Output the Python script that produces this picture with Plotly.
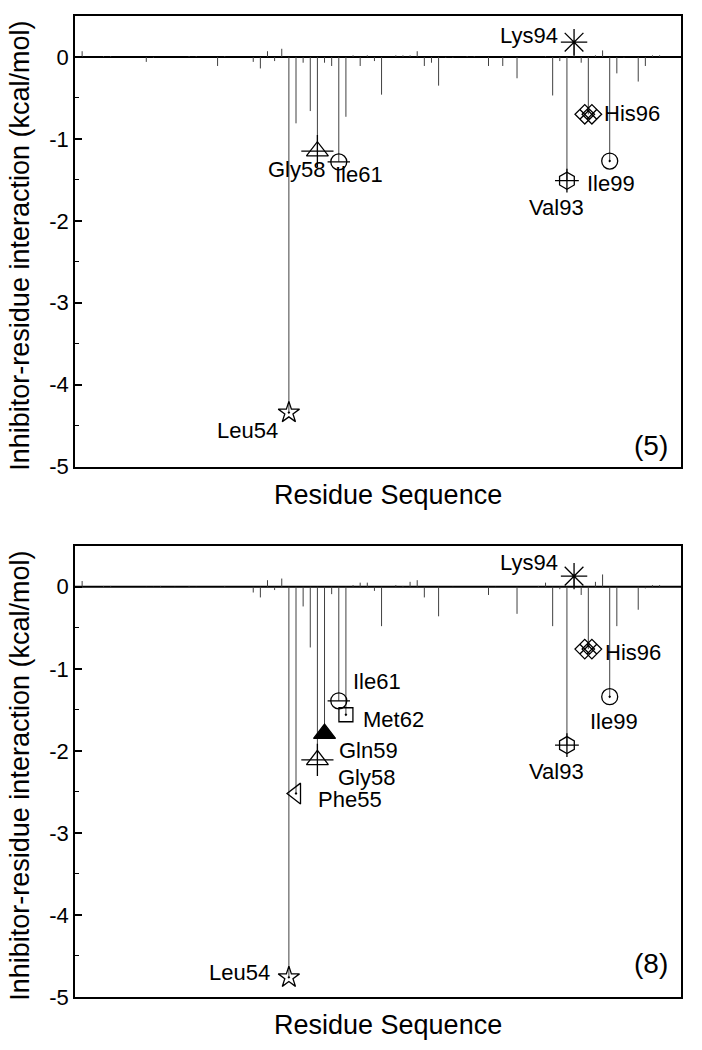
import plotly.graph_objects as go

# ---------------- data ----------------
# residue numbers and inhibitor-residue interaction energies (kcal/mol)
residues_5 = [25, 28, 29, 34, 35, 40, 41, 44, 45, 49, 50, 51, 52, 53, 54, 55, 56, 57, 58, 59,
              60, 61, 62, 63, 64, 65, 66, 67, 69, 70, 71, 72, 73, 74, 75, 76, 77, 79, 80, 82,
              84, 86, 90, 91, 92, 93, 94, 95, 96, 97, 98, 99, 100, 101, 103, 104, 105, 106]
energies_5 = [0.07, 0.01, 0.01, -0.06, -0.01, 0.01, 0.01, -0.11, 0.01, -0.06, -0.14, 0.07, -0.05, 0.10,
              -4.34, -0.81, -0.07, -0.66, -1.15, -0.07, -0.11, -1.28, -0.73, 0.02, -0.11, 0.02, -0.05,
              -0.46, 0.02, 0.02, 0.02, 0.07, -0.11, -0.07, -0.35, -0.01, -0.01, 0.01, 0.01, -0.11,
              -0.11, -0.26, 0.01, -0.47, -0.05, -1.51, 0.18, -0.07, -0.70, 0.02, 0.08, -1.27, -0.20,
              -0.01, -0.30, -0.11, 0.02, 0.02]

residues_8 = [25, 28, 29, 34, 35, 36, 38, 40, 41, 45, 49, 50, 51, 52, 53, 54, 55, 56, 57, 58,
              59, 60, 61, 62, 63, 64, 65, 66, 67, 69, 70, 71, 72, 73, 75, 77, 82, 83, 86, 89,
              90, 91, 92, 93, 94, 95, 96, 97, 98, 99, 100, 103, 104, 105, 106]
energies_8 = [0.07, 0.01, 0.01, -0.01, -0.01, 0.01, -0.01, 0.01, -0.01, 0.01, -0.07, -0.13, 0.08, -0.04,
              0.10, -4.76, -2.52, -0.24, -0.74, -2.11, -1.79, -0.09, -1.39, -1.56, 0.02, 0.05, 0.05,
              -0.05, -0.48, 0.02, 0.01, 0.06, 0.08, -0.13, -0.36, -0.01, -0.10, -0.01, -0.33, 0.01,
              0.05, -0.48, -0.03, -1.93, 0.13, -0.10, -0.76, 0.06, 0.15, -1.34, -0.48, -0.28, -0.02,
              0.02, 0.02]

# key residues labelled in each panel
key_5 = ["Leu54", "Gly58", "Ile61", "Val93", "Lys94", "His96", "Ile99"]
key_8 = ["Leu54", "Phe55", "Gly58", "Gln59", "Ile61", "Met62", "Val93", "Lys94", "His96", "Ile99"]

panel_tags = ["(5)", "(8)"]
y_ticks = [-5, -4, -3, -2, -1, 0]
x_title = "Residue Sequence"
y_title = "Inhibitor-residue interaction (kcal/mol)"

# ---------------- styles ----------------
FONT = "Liberation Sans, Arial, sans-serif"
# symbol layers per residue name
SYMBOLS = {
    "Leu54": [("star-open-dot", 16)],
    "Phe55": [("triangle-left-open-dot", 18)],
    "Gly58": [("triangle-up-open", 19), ("cross-thin-open", 23)],
    "Gln59": [("triangle-up", 19)],
    "Ile61": [("circle-open", 16), ("line-ew-open", 16)],
    "Met62": [("square-open-dot", 14)],
    "Val93": [("hexagon-open", 17), ("cross-thin-open", 17)],
    "Lys94": [("asterisk-open", 22)],
    "His96": [("diamond-x-open", 15)],
    "Ile99": [("circle-open-dot", 16)],
}
# label placement: (xanchor, xshift, yshift)
LABELS_5 = {
    "Leu54": ("right", -9, -18),
    "Gly58": ("center", -21, -18),
    "Ile61": ("center", 20, -13),
    "Val93": ("center", -10, -27),
    "Lys94": ("right", -14, 7),
    "His96": ("left", 14, 1),
    "Ile99": ("center", 1, -22),
}
LABELS_8 = {
    "Leu54": ("right", -17, 5),
    "Phe55": ("left", 20, -6),
    "Gly58": ("left", 19, -18),
    "Gln59": ("left", 12, -17),
    "Ile61": ("left", 12, 19),
    "Met62": ("left", 15, -5),
    "Val93": ("center", -10, -26),
    "Lys94": ("right", -14, 14),
    "His96": ("left", 15, -3),
    "Ile99": ("center", 4, -25),
}

fig = go.Figure()

panels = [
    (residues_5, energies_5, key_5, LABELS_5, "x", "y", panel_tags[0], 0.048),
    (residues_8, energies_8, key_8, LABELS_8, "x2", "y2", panel_tags[1], 0.075),
]

annotations = []
for res, en, keys, labels, xa, ya, tag, tag_y in panels:
    # zero baseline
    fig.add_trace(go.Scatter(x=[24, 109], y=[0, 0], mode="lines",
                             line=dict(color="black", width=2), xaxis=xa, yaxis=ya,
                             showlegend=False, hoverinfo="skip"))
    # stems
    sx, sy = [], []
    for r, v in zip(res, en):
        sx += [r, r, None]
        sy += [0, v, None]
    fig.add_trace(go.Scatter(x=sx, y=sy, mode="lines",
                             line=dict(color="#404040", width=1), xaxis=xa, yaxis=ya,
                             showlegend=False, hoverinfo="skip"))
    lookup = dict(zip(res, en))
    for name in keys:
        r = int(name[3:])
        v = lookup[r]
        if name == "His96":
            xs = [r - 0.5, r + 0.5]
        else:
            xs = [r]
        for sym, size in SYMBOLS[name]:
            fig.add_trace(go.Scatter(
                x=xs, y=[v] * len(xs), mode="markers", xaxis=xa, yaxis=ya,
                marker=dict(symbol=sym, size=size, color="black",
                            line=dict(color="black", width=1.3)),
                showlegend=False, hoverinfo="skip"))
        xanc, xs_, ys_ = labels[name]
        annotations.append(dict(x=r, y=v, xref=xa, yref=ya, text=name, showarrow=False,
                                xanchor=xanc, yanchor="middle", xshift=xs_, yshift=ys_,
                                font=dict(family=FONT, size=22, color="black")))
    dom = ya + " domain"
    xdom = xa + " domain"
    annotations.append(dict(x=0.982, y=tag_y, xref=xdom, yref=dom, text=tag, showarrow=False,
                            xanchor="right", yanchor="middle",
                            font=dict(family=FONT, size=28, color="black")))
    annotations.append(dict(x=0.5165, y=-0.063, xref=xdom, yref=dom, text=x_title,
                            showarrow=False, xanchor="center", yanchor="middle",
                            font=dict(family=FONT, size=27, color="black")))
    annotations.append(dict(x=-0.091, y=0.49, xref=xdom, yref=dom, text=y_title,
                            showarrow=False, xanchor="center", yanchor="middle", textangle=-90,
                            font=dict(family=FONT, size=27, color="black")))

xaxis_style = dict(range=[24, 109], showticklabels=False, ticks="", showgrid=False,
                   zeroline=False, showline=True, linecolor="black", linewidth=1.5, mirror=True)
yaxis_style = dict(range=[-5, 0.5], tickvals=y_ticks, ticktext=[str(t) for t in y_ticks],
                   ticks="inside", ticklen=7, tickwidth=1.5, tickcolor="black",
                   minor=dict(ticks="inside", ticklen=4, tickwidth=1.2, dtick=0.5, tickcolor="black"),
                   showgrid=False, zeroline=False, showline=True, linecolor="black",
                   linewidth=1.5, mirror=True,
                   tickfont=dict(family=FONT, size=22, color="black"))

fig.update_layout(
    width=702, height=1050,
    margin=dict(l=75, r=21, t=16, b=53),
    paper_bgcolor="white", plot_bgcolor="white",
    xaxis=dict(domain=[0, 1], anchor="y", **xaxis_style),
    yaxis=dict(domain=[0.5406, 1], anchor="x", **yaxis_style),
    xaxis2=dict(domain=[0, 1], anchor="y2", **xaxis_style),
    yaxis2=dict(domain=[0, 0.46], anchor="x2", **yaxis_style),
    annotations=annotations,
    showlegend=False,
)

fig.write_html("out.html", config={"displayModeBar": False},
               post_script="document.body.style.margin='0px';document.body.style.overflow='hidden';")
